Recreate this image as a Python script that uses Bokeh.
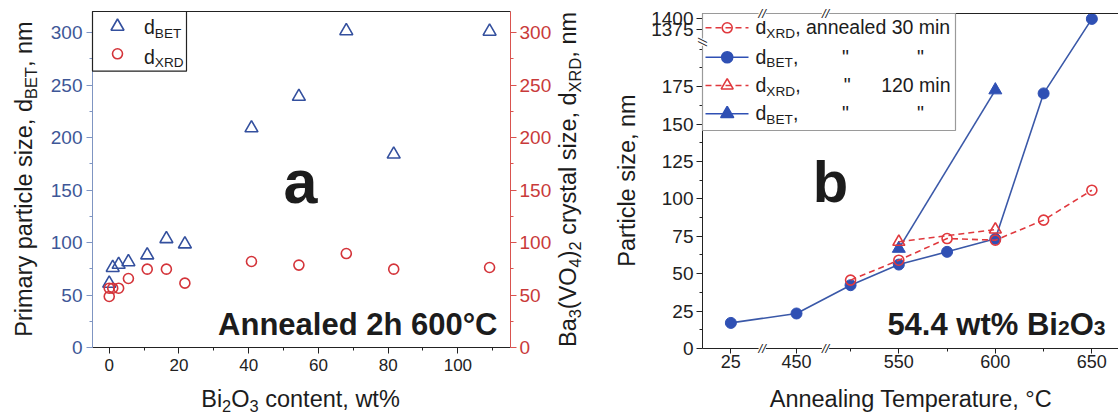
import math
from bokeh.plotting import figure
from bokeh.models import LinearAxis, FixedTicker, Range1d, Label, BoxAnnotation
from bokeh.layouts import row
from bokeh.embed import file_html
from bokeh.resources import INLINE

FONT = "Liberation Sans"

# ---------------- data: panel a (annealed 2 h at 600 C) ----------------
wt_bet = [0, 1.0, 2.7, 5.5, 10.9, 16.4, 21.7, 40.8, 54.4, 68.0, 81.6, 109.1]
d_bet_a = [61, 76, 79, 81.5, 88, 103.5, 98.5, 209, 239, 301.5, 184, 301]
wt_xrd = [0, 0, 1.0, 2.7, 5.5, 10.9, 16.4, 21.7, 40.8, 54.4, 68.0, 81.6, 109.1]
d_xrd_a = [48.6, 56.5, 56.5, 56.5, 65.7, 74.6, 74.6, 61.3, 81.9, 78.5, 89.5, 74.6, 76.2]
a_xticks = [0, 20, 40, 60, 80, 100]
a_xminor = [10, 30, 50, 70, 90, 110]
a_yticks = [0, 50, 100, 150, 200, 250, 300]
a_yminor = [25, 75, 125, 175, 225, 275]

# ---------------- data: panel b (54.4 wt% Bi2O3) ----------------
temp_bet_30 = [25, 450, 525, 550, 575, 600, 625, 650]
d_bet_30 = [17.1, 23.4, 42.3, 56.1, 64.6, 73.3, 170.5, 1400]
temp_xrd_30 = [525, 550, 575, 600, 625, 650]
d_xrd_30 = [45.7, 59.0, 73.5, 72.4, 85.8, 105.8]
temp_120 = [550, 600]
d_xrd_120 = [71.3, 79.5]
d_bet_120 = [66.8, 172.7]
b_xticks = [25, 450, 550, 600, 650]
b_xminor = [525, 575, 625]
b_yticks = [0, 25, 50, 75, 100, 125, 150, 175, 1375, 1400]
b_yminor = [12.5, 37.5, 62.5, 87.5, 112.5, 137.5, 162.5, 187.5, 200]

BLUE_A = "#34509e"
RED_A = "#d4343a"
BLUE_B = "#2f50b4"
BLUE_LINE = "#3a58a8"
RED_B = "#e0393e"
TXT = "#1c1c1c"
BASE_CORR = 0.35   # empirical shift of the alphabetic anchor

# ---------- text metrics (Arial / Liberation Sans advance widths) ----------
W_REG = {' ': 278, '!': 278, '"': 355, '%': 889, '(': 333, ')': 333, ',': 278, '-': 333,
         '.': 278, '/': 278, ':': 278, '\u00b0': 400,
         'A': 667, 'B': 667, 'C': 722, 'D': 722, 'E': 667, 'F': 611, 'G': 778, 'H': 722,
         'I': 278, 'J': 500, 'K': 667, 'L': 556, 'M': 833, 'N': 722, 'O': 778, 'P': 667,
         'Q': 778, 'R': 722, 'S': 667, 'T': 611, 'U': 722, 'V': 667, 'W': 944, 'X': 667,
         'Y': 667, 'Z': 611,
         'a': 556, 'b': 556, 'c': 500, 'd': 556, 'e': 556, 'f': 278, 'g': 556, 'h': 556,
         'i': 222, 'j': 222, 'k': 500, 'l': 222, 'm': 833, 'n': 556, 'o': 556, 'p': 556,
         'q': 556, 'r': 333, 's': 500, 't': 278, 'u': 556, 'v': 500, 'w': 722, 'x': 500,
         'y': 500, 'z': 500}
W_BOLD = {' ': 278, '%': 889, '.': 278, '\u00b0': 400, 'A': 722, 'B': 722, 'C': 722,
          'O': 778, 'a': 556, 'b': 611, 'd': 611, 'e': 556, 'h': 611, 'i': 278, 'l': 278,
          'n': 611, 't': 333, 'w': 778}


def tw(s, size, bold=False):
    tab = W_BOLD if bold else W_REG
    return sum(tab.get(c, 556) for c in s) * size / 1000.0


class Geo:
    """Canvas W x H; plot box at (bl, bt) of size fw x fh spanning data bx, by."""

    def __init__(self, W, H, bl, bt, fw, fh, bx, by):
        self.W, self.H = W, H
        self.bx, self.by = bx, by
        self.kx = (bx[1] - bx[0]) / fw
        self.ky = (by[1] - by[0]) / fh
        self.fx = (bx[0] - bl * self.kx, bx[0] + (W - bl) * self.kx)
        self.fy = (by[1] - (H - bt) * self.ky, by[1] + bt * self.ky)

    def sx(self, X):
        return X

    def sy(self, Y):
        return self.H - Y

    def dx(self, X):
        return self.fx[0] + X * self.kx

    def dy(self, Y):
        return self.fy[1] - Y * self.ky


def put(p, g, X, Y, text, fs, color=TXT, bold=False, angle=0.0, align="left",
        italic=False, bg=None, baseline="alphabetic"):
    if baseline == "alphabetic":
        if angle == 0:
            Y = Y - BASE_CORR * fs
        else:
            X = X - BASE_CORR * fs
    style = "bold" if bold else ("italic" if italic else "normal")
    p.add_layout(Label(x=g.sx(X), y=g.sy(Y), x_units="screen", y_units="screen",
                       text=text, angle=angle, text_font=FONT,
                       text_font_size="%.1fpx" % fs, text_font_style=style,
                       text_color=color, text_align=align, text_baseline=baseline,
                       background_fill_color=bg))


def rich(p, g, X, Y, segs, size, color=TXT, bold=False, angle=0.0, align="left",
         sub_scale=0.7, sub_drop=0.2):
    widths = [tw(t, size * (sub_scale if s else 1.0), bold) for t, s in segs]
    L = sum(widths)
    start = {"left": 0.0, "center": -L / 2.0, "right": -L}[align]
    if angle == 0:
        d, n = (1, 0), (0, 1)
    else:
        d, n = (0, -1), (1, 0)
    cur = start
    for (t, s), w in zip(segs, widths):
        fs = size * (sub_scale if s else 1.0)
        off = sub_drop * size if s else 0.0
        body = t.lstrip(" ")
        lead = tw(t[:len(t) - len(body)], fs, bold)
        pos = cur + lead
        cx = X + d[0] * pos + n[0] * off
        cy = Y + d[1] * pos + n[1] * off
        put(p, g, cx, cy, body, fs, color=color, bold=bold, angle=angle)
        cur += w


def style_axis(ax, color, label_color, fs, standoff, tick_out=6, minor_out=3):
    ax.axis_line_color = color
    ax.major_tick_line_color = color
    ax.minor_tick_line_color = color
    ax.major_tick_out = tick_out
    ax.major_tick_in = 0
    ax.minor_tick_out = minor_out
    ax.minor_tick_in = 0
    ax.major_label_text_font = FONT
    ax.major_label_text_font_size = fs
    ax.major_label_text_color = label_color
    ax.major_label_standoff = standoff
    ax.axis_label = None


def make_fig(g):
    p = figure(width=g.W, height=g.H, x_range=Range1d(*g.fx), y_range=Range1d(*g.fy),
               output_backend="svg", toolbar_location=None,
               x_axis_location=None, y_axis_location=None, min_border=0)
    p.outline_line_color = None
    p.grid.visible = False
    p.background_fill_color = "white"
    p.border_fill_color = "white"
    return p


def frame_line(p, g):
    ax = LinearAxis(ticker=FixedTicker(ticks=[]), axis_line_color="#222222",
                    major_tick_line_color=None, minor_tick_line_color=None,
                    fixed_location=g.by[1], bounds=g.bx)
    p.add_layout(ax, "above")


def legend_box(p, g, right_px, bottom_px, color):
    p.add_layout(BoxAnnotation(left=g.bx[0], right=g.dx(right_px), top=g.by[1],
                               bottom=g.dy(bottom_px), fill_alpha=0.0,
                               line_color=color, line_alpha=1.0, line_width=1.2))


# ======================= panel a =======================
ga = Geo(600, 414, 92, 11, 418, 336, (-4.8, 115.1), (0, 320))
pa = make_fig(ga)

ax_b = LinearAxis(ticker=FixedTicker(ticks=a_xticks, minor_ticks=a_xminor),
                  fixed_location=ga.by[0], bounds=ga.bx)
style_axis(ax_b, "#222222", "#222222", "17px", 5)
pa.add_layout(ax_b, "below")
ax_l = LinearAxis(ticker=FixedTicker(ticks=a_yticks, minor_ticks=a_yminor),
                  fixed_location=ga.bx[0], bounds=ga.by)
style_axis(ax_l, "#7f95c2", "#3e5797", "19px", 4)
pa.add_layout(ax_l, "left")
ax_r = LinearAxis(ticker=FixedTicker(ticks=a_yticks, minor_ticks=a_yminor),
                  fixed_location=ga.bx[1], bounds=ga.by)
style_axis(ax_r, "#d9534f", "#c93a3a", "19px", 3)
pa.add_layout(ax_r, "right")
frame_line(pa, ga)

# legend (a)
legend_box(pa, ga, 186, 70.7, "#222222")
pa.scatter(x=[ga.dx(117)], y=[ga.dy(26)], marker="triangle", size=13, fill_color=None,
           line_color=BLUE_A, line_width=1.6)
pa.scatter(x=[ga.dx(117)], y=[ga.dy(53.3)], marker="circle", size=10, fill_color=None,
           line_color=RED_A, line_width=1.6)
rich(pa, ga, 143.5, 33.5, [("d", False), ("BET", True)], 19.5)
rich(pa, ga, 143.5, 63.3, [("d", False), ("XRD", True)], 19.5)

pa.scatter(wt_bet, d_bet_a, marker="triangle", size=13, fill_color=None,
           line_color=BLUE_A, line_width=1.6)
pa.scatter(wt_xrd, d_xrd_a, marker="circle", size=10, fill_color=None,
           line_color=RED_A, line_width=1.6)

# annotations (a)
put(pa, ga, 300, 203, "a", 61, bold=True, align="center")
rich(pa, ga, 497, 335, [("Annealed 2h 600\u00b0C", False)], 31, bold=True, align="right")

# axis titles (a)
rich(pa, ga, 300, 407, [("Bi", False), ("2", True), ("O", False), ("3", True),
                        (" content, wt%", False)], 23.5, align="center")
rich(pa, ga, 32, 178.5, [("Primary particle size, d", False), ("BET", True), (", nm", False)],
     23.5, angle=math.pi / 2, align="center")
rich(pa, ga, 576, 179, [("Ba", False), ("3", True), ("(VO", False), ("4", True), (")", False),
                        ("2", True), (" crystal size, d", False), ("XRD", True), (", nm", False)],
     23.5, angle=math.pi / 2, align="center")


# ======================= panel b =======================
def xb(t):
    # broken temperature axis: 25 | 450 | 500-650
    if t < 100:
        return t + 438
    if t < 500:
        return t + 47
    return t


def yb(v):
    # broken size axis: 0-205 | 1348-1413 (compressed)
    if v <= 205:
        return v
    return 205 + (v - 1348) * 0.294


gb = Geo(518, 414, 102, 13, 416, 335, (448.3, 663.8), (0, 223.9))
pb = make_fig(gb)

bx_b = LinearAxis(ticker=FixedTicker(ticks=[xb(t) for t in b_xticks], minor_ticks=b_xminor),
                  fixed_location=gb.by[0], bounds=gb.bx)
bx_b.major_label_overrides = {xb(t): str(t) for t in b_xticks}
style_axis(bx_b, "#222222", "#222222", "18px", 1, tick_out=5, minor_out=3)
pb.add_layout(bx_b, "below")
by_l = LinearAxis(ticker=FixedTicker(ticks=[yb(v) for v in b_yticks], minor_ticks=b_yminor),
                  fixed_location=gb.bx[0], bounds=gb.by)
by_l.major_label_overrides = {yb(v): str(v) for v in b_yticks}
style_axis(by_l, "#222222", "#222222", "19px", 3)
pb.add_layout(by_l, "left")
frame_line(pb, gb)

# legend (b)
legend_box(pb, gb, 355, 130, "#9a9a9a")

# data (b)
pb.line([xb(t) for t in temp_bet_30], [yb(v) for v in d_bet_30], line_color=BLUE_LINE,
        line_width=1.6)
pb.scatter([xb(t) for t in temp_bet_30], [yb(v) for v in d_bet_30], marker="circle", size=11,
           fill_color=BLUE_B, line_color=BLUE_B)
pb.line([xb(t) for t in temp_120], [yb(v) for v in d_bet_120], line_color=BLUE_LINE,
        line_width=1.6)
pb.scatter([xb(t) for t in temp_120], [yb(v) for v in d_bet_120], marker="triangle", size=13,
           fill_color=BLUE_B, line_color=BLUE_B)
pb.line([xb(t) for t in temp_xrd_30], [yb(v) for v in d_xrd_30], line_color=RED_B,
        line_width=1.6, line_dash="6 4")
pb.scatter([xb(t) for t in temp_xrd_30], [yb(v) for v in d_xrd_30], marker="circle", size=10,
           fill_color=None, line_color=RED_B, line_width=1.6)
pb.line([xb(t) for t in temp_120], [yb(v) for v in d_xrd_120], line_color=RED_B,
        line_width=1.6, line_dash="6 4")
pb.scatter([xb(t) for t in temp_120], [yb(v) for v in d_xrd_120], marker="triangle", size=12,
           fill_color=None, line_color=RED_B, line_width=1.6)

rows_y = [27.3, 56.7, 85.0, 113.3]
styles = [("circle", RED_B, None, "6 4", 10), ("circle", BLUE_B, BLUE_B, "solid", 11),
          ("triangle", RED_B, None, "6 4", 12), ("triangle", BLUE_B, BLUE_B, "solid", 13)]
for ry, (mk, lc, fc, dash, sz) in zip(rows_y, styles):
    pb.line([gb.dx(105), gb.dx(148)], [gb.dy(ry), gb.dy(ry)], line_color=lc, line_width=1.6,
            line_dash=dash)
    pb.scatter([gb.dx(126.7)], [gb.dy(ry)], marker=mk, size=sz, fill_color=fc, line_color=lc,
               line_width=1.6)
rich(pb, gb, 155, rows_y[0] + 6.5, [("d", False), ("XRD", True), (", annealed 30 min", False)], 19.5)
rich(pb, gb, 155, rows_y[1] + 6.5, [("d", False), ("BET", True), (",", False)], 19.5)
rich(pb, gb, 245, rows_y[1] + 6.5, [('"', False)], 19.5, align="center")
rich(pb, gb, 320, rows_y[1] + 6.5, [('"', False)], 19.5, align="center")
rich(pb, gb, 155, rows_y[2] + 6.5, [("d", False), ("XRD", True), (",", False)], 19.5)
rich(pb, gb, 246.7, rows_y[2] + 6.5, [('"', False)], 19.5, align="center")
rich(pb, gb, 350, rows_y[2] + 6.5, [("120 min", False)], 19.5, align="right")
rich(pb, gb, 155, rows_y[3] + 6.5, [("d", False), ("BET", True), (",", False)], 19.5)
rich(pb, gb, 245, rows_y[3] + 6.5, [('"', False)], 19.5, align="center")
rich(pb, gb, 320, rows_y[3] + 6.5, [('"', False)], 19.5, align="center")

# axis break marks
for bxp in (161.7, 225.0):
    for by in (13, 348):
        put(pb, gb, bxp, by, "//", 13, color="#222222", align="center", italic=True,
            bg="white", baseline="middle")
put(pb, gb, 102, 41.7, "//", 13, color="#222222", align="center", italic=True, bg="white",
    baseline="middle", angle=math.pi / 2)

# annotations (b)
put(pb, gb, 230, 201.7, "b", 58, bold=True, align="center")
rich(pb, gb, 505, 335, [("54.4 wt% Bi", False), ("2", True), ("O", False), ("3", True)], 31,
     bold=True, align="right", sub_scale=0.68, sub_drop=0.0)

# axis titles (b)
rich(pb, gb, 311.7, 407, [("Annealing Temperature, \u00b0C", False)], 23.5, align="center")
rich(pb, gb, 35, 180, [("Particle size, nm", False)], 23.5, angle=math.pi / 2, align="center")

layout = row(pa, pb)
open("out.html", "w").write(file_html(layout, INLINE))
